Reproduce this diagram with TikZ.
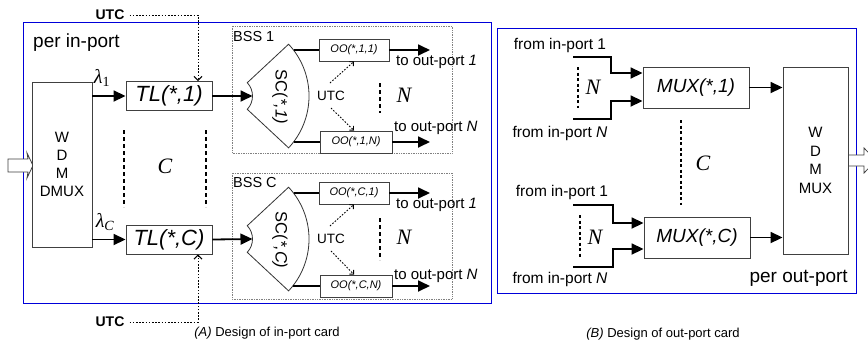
\documentclass[tikz,border=0pt]{standalone}
\usepackage{fontspec}
\setmainfont{Liberation Sans}
\newfontfamily\tms{Liberation Serif}
\usetikzlibrary{arrows.meta}
\newcommand\fsz[1]{\fontsize{#1}{#1}\selectfont}
\begin{document}
\begin{tikzpicture}[x=1pt,y=-1pt,
 box/.style={draw=black!75, line width=0.9pt, inner sep=0pt, anchor=center, fill=white},
 thickarr/.style={line width=1.8pt, -{Triangle[length=12pt,width=11pt]}},
 thickln/.style={line width=1.8pt},
 utcline/.style={dash pattern=on 1.6pt off 1.6pt, line width=1pt, -{Straight Barb[length=4pt,width=8pt]}},
 utcsmall/.style={dash pattern=on 1.6pt off 1.6pt, line width=0.9pt, -{Straight Barb[length=3pt,width=6pt]}},
 vdash/.style={line width=2pt, dash pattern=on 4pt off 3pt},
 rdash/.style={line width=1.8pt, dash pattern=on 3pt off 2.5pt},
 bss/.style={draw=gray, densely dotted, line width=0.7pt},
 card/.style={draw=blue!85!black, line width=0.9pt},
 lbl/.style={inner sep=0pt, anchor=center},
 ser/.style={inner sep=0pt, font=\tms\itshape\fsz{22}},
 fan/.style={draw=black!80, line width=0.8pt, fill=white},
 hollow/.style={draw=black!75, line width=0.8pt, fill=white},
]
\useasboundingbox (0,0) rectangle (868,341);
\fill[white] (0,0) rectangle (868,341);

% cards
\draw[card] (23,22) rectangle (491,303);
\draw[card] (497,28) rectangle (856,293);

% input / output hollow arrows
\draw[hollow] (8,159) -- (28,159) -- (27,153) -- (33,165.5) -- (27,178) -- (28,172) -- (8,172) -- cycle;
\begin{scope}
\clip (0,0) rectangle (868,341);
\draw[hollow] (848,155) -- (864,155) -- (864,148) -- (876,160.5) -- (864,173) -- (864,166) -- (848,166) -- cycle;
\end{scope}

% ===== in-port card =====
\node[lbl, anchor=west, font=\fsz{19}] (pin) at (33,43) {per in-port};
\node[box, minimum width=60, minimum height=165, align=center, font=\fontsize{15}{18}\selectfont] (wdm) at (62,164.5) {W\\D\\M\\DMUX};

\node[box, minimum width=86, minimum height=29, font=\itshape\fsz{22}] (tl1) at (169,96) {TL(*,1)};
\node[box, minimum width=86, minimum height=29, font=\itshape\fsz{22}] (tlC) at (169,239.5) {TL(*,C)};

\node[lbl, font=\tms\itshape\fsz{20}] (lam1) at (102,78) {λ\textsubscript{\upshape 1}};
\node[lbl, font=\tms\itshape\fsz{20}] (lamC) at (105,222) {λ\textsubscript{C}};

\draw[thickarr] (wdm.east |- tl1.west) -- (tl1.west);
\draw[thickarr] (wdm.east |- tlC.west) -- (tlC.west);

\draw[vdash] (124,130) -- (124,207);
\draw[vdash] (206,130) -- (206,207);
\node[ser] (cl) at (165,166) {C};

\node[lbl, font=\bfseries\fsz{14}] (utcA) at (110,15) {UTC};
\node[lbl, font=\bfseries\fsz{14}] (utcB) at (110,322) {UTC};
\draw[utcline] ([xshift=5]utcA.east) -| ([xshift=29]tl1.north);
\draw[utcline] ([xshift=5]utcB.east) -| ([xshift=29]tlC.south);

% BSS 1
\draw[bss] (232,26) rectangle (452,153);
\node[lbl, anchor=west, font=\fsz{14.5}] (bss1) at (233,37) {BSS 1};
\draw[fan] (288.6,44.2) arc[start angle=-43, end angle=43, radius=76] -- (247.26,109.3) arc[start angle=43, end angle=-43, radius=19.5] -- cycle;
\coordinate (sc1n) at (252.5,96);
\coordinate (sc1t) at (293.5,50);
\coordinate (sc1b) at (293.5,142);
\node[lbl, rotate=-90, font=\fsz{16.5}] (sc1) at (280,97) {SC(\textit{*,1)}};
\draw[thickarr] (tl1.east) -- (sc1n);
\node[box, minimum width=70, minimum height=22, font=\itshape\fsz{11}] (oo11) at (354,50) {OO(*,1,1)};
\node[box, minimum width=72, minimum height=22, font=\itshape\fsz{11}] (oo1N) at (356,142) {OO(*,1,N)};
\draw[thickln] (sc1t) -- (oo11.west);
\draw[thickln] (sc1b) -- (oo1N.west);
\coordinate (e11) at (430,50);
\coordinate (e1N) at (430,142);
\draw[thickarr] (oo11.east) -- (e11);
\draw[thickarr] (oo1N.east) -- (e1N);
\node[lbl, anchor=west, font=\fsz{15}] (to11) at (396,62) {to out-port \textit{1}};
\node[lbl, anchor=west, font=\fsz{15}] (to1N) at (394,128) {to out-port \textit{N}};
\node[lbl, font=\fsz{13.5}] (utc1) at (331,96) {UTC};
\coordinate (u1a) at (330,83);
\coordinate (u1b) at (331,108);
\draw[utcsmall] (u1a) -- (oo11.south);
\draw[utcsmall] (u1b) -- ([xshift=-2]oo1N.north);
\draw[vdash] (380,83) -- (380,113);
\node[ser] (n1) at (404,95) {N};

% BSS C
\draw[bss] (232,173) rectangle (452,299);
\node[lbl, anchor=west, font=\fsz{14.5}] (bssC) at (233,183) {BSS C};
\draw[fan] (288.6,187.2) arc[start angle=-43, end angle=43, radius=76] -- (247.26,252.3) arc[start angle=43, end angle=-43, radius=19.5] -- cycle;
\coordinate (scCn) at (252.5,239);
\coordinate (scCt) at (293.5,193);
\coordinate (scCb) at (293,286);
\node[lbl, rotate=-90, font=\fsz{16.5}] (scC) at (280,240) {SC(\textit{*,C)}};
\draw[thickarr] (tlC.east) -- (scCn);
\node[box, minimum width=70, minimum height=22, font=\itshape\fsz{11}] (ooC1) at (354,193) {OO(*,C,1)};
\node[box, minimum width=72, minimum height=22, font=\itshape\fsz{11}] (ooCN) at (356,286) {OO(*,C,N)};
\draw[thickln] (scCt) -- (ooC1.west);
\draw[thickln] (scCb) -- (ooCN.west);
\coordinate (eC1) at (430,193);
\coordinate (eCN) at (430,286);
\draw[thickarr] (ooC1.east) -- (eC1);
\draw[thickarr] (ooCN.east) -- (eCN);
\node[lbl, anchor=west, font=\fsz{15}] (toC1) at (396,205) {to out-port \textit{1}};
\node[lbl, anchor=west, font=\fsz{15}] (toCN) at (394,276) {to out-port \textit{N}};
\node[lbl, font=\fsz{13.5}] (utcC) at (331,239) {UTC};
\coordinate (uCa) at (330,226);
\coordinate (uCb) at (331,251);
\draw[utcsmall] (uCa) -- (ooC1.south);
\draw[utcsmall] (uCb) -- ([xshift=-2]ooCN.north);
\draw[vdash] (380,218) -- (380,260);
\node[ser] (nC) at (404,237) {N};

\node[lbl, font=\fsz{13}] (capA) at (267,333) {\textit{(A)} Design of in-port card};

% ===== out-port card =====
\node[box, minimum width=106, minimum height=41, font=\itshape\fsz{19}] (mux1) at (696,87.5) {MUX(*,1)};
\node[box, minimum width=106, minimum height=41, font=\itshape\fsz{19}] (muxC) at (697,237.5) {MUX(*,C)};
\node[box, minimum width=65, minimum height=187, align=center, font=\fontsize{15}{18.5}\selectfont] (wdmm) at (815.5,160.5) {W\\D\\M\\MUX};
\draw[thickarr] (mux1.east) -- (wdmm.west |- mux1.east);
\draw[thickarr] (muxC.east) -- (wdmm.west |- muxC.east);

\coordinate (a1) at (573,57);
\coordinate (b1) at (573,119);
\coordinate (a2) at (573,205);
\coordinate (b2) at (573,267);
\draw[thickarr] (a1) -- ++(38,0) -- ++(0,16) -- ([yshift=14.5]mux1.west);
\draw[thickarr] (b1) -- ++(38,0) -- ++(0,-18) -- ([yshift=-13.5]mux1.west);
\draw[thickarr] (a2) -- ++(40,0) -- ++(0,18) -- ([yshift=14.5]muxC.west);
\draw[thickarr] (b2) -- ++(40,0) -- ++(0,-18) -- ([yshift=-11.5]muxC.west);

\node[lbl, font=\fsz{15.5}] (f1) at (560,45) {from in-port 1};
\node[lbl, font=\fsz{15.5}] (fN1) at (560,133) {from in-port \textit{N}};
\node[lbl, font=\fsz{15.5}] (f2) at (562,192) {from in-port 1};
\node[lbl, font=\fsz{15.5}] (fN2) at (560,279) {from in-port \textit{N}};

\draw[rdash] (578,67) -- (578,108);
\node[ser] (nr1) at (593,87) {N};
\draw[rdash] (580,215) -- (580,258);
\node[ser] (nr2) at (595,237) {N};
\draw[rdash] (681,120) -- (681,205);
\node[ser] (cr) at (703,163) {C};

\node[lbl, anchor=east, font=\fsz{19}] (pout) at (848,278) {per out-port};
\node[lbl, font=\fsz{13}] (capB) at (663,334) {\textit{(B)} Design of out-port card};
\end{tikzpicture}
\end{document}
